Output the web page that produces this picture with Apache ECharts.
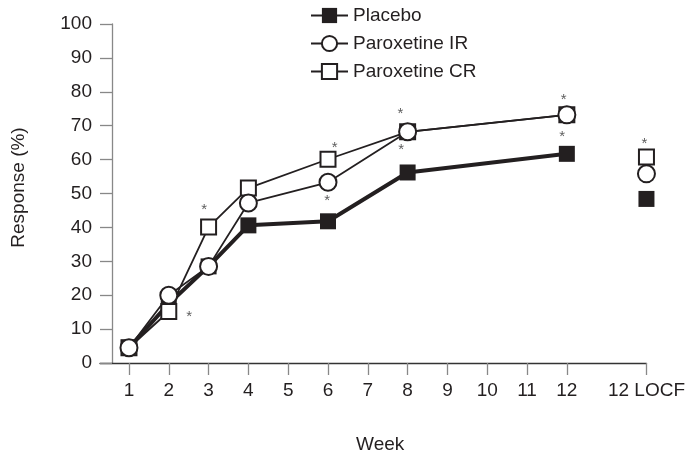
<!DOCTYPE html>
<html><head><meta charset="utf-8">
<script src="https://cdn.jsdelivr.net/npm/echarts@6/dist/echarts.min.js"></script>
<style>html,body{margin:0;padding:0;background:#fff}#c{width:688px;height:459px}</style>
</head><body><div id="c"></div>
<script>
// ---- data ----
const weeks = [1, 2, 3, 4, 6, 8, 12];
const locfX = 14;
const xTickValues = [1, 2, 3, 4, 5, 6, 7, 8, 9, 10, 11, 12, 14];
const xTickLabels = ['1','2','3','4','5','6','7','8','9','10','11','12','12 LOCF'];
const yTicks = [0, 10, 20, 30, 40, 50, 60, 70, 80, 90, 100];

const placebo = [4.5, 17.5, 28.5, 40.6, 41.8, 56.2, 61.7];
const placeboLOCF = 48.4;
const paroxIR = [4.5, 20.0, 28.5, 47.2, 53.3, 68.2, 73.2];
const paroxIRLOCF = 55.8;
const paroxCR = [4.5, 15.2, 40.1, 51.6, 60.1, 68.2, 73.2];
const paroxCRLOCF = 60.8;

// significance markers (*) positions in data units
const asterisks = [[2.89, 46.1], [2.51, 14.5], [6.17, 64.4], [5.98, 48.7],
  [7.82, 74.6], [7.84, 63.8], [11.92, 78.6], [11.88, 67.8], [13.95, 65.5]];

// ---- build ----
const ink = '#231f20';
function build(vals, locf) {
  const d = weeks.map((w, i) => [w, vals[i]]);
  d.push([13, '-']);
  d.push([locfX, locf]);
  return d;
}
const font = 'Liberation Sans, Arial, Helvetica, sans-serif';
const chart = echarts.init(document.getElementById('c'), null, {renderer: 'canvas'});
chart.setOption({
  animation: false,
  backgroundColor: '#fff',
  textStyle: {fontFamily: font, color: ink},
  grid: {left: 100, right: 41, top: 24, bottom: 92},
  legend: {
    data: ['Placebo', 'Paroxetine IR', 'Paroxetine CR'],
    orient: 'vertical', left: 305, top: 1, padding: 5,
    itemWidth: 37, itemHeight: 19, itemGap: 9,
    textStyle: {fontSize: 19, color: ink, fontFamily: font}
  },
  xAxis: {
    type: 'value', min: 1 - 29 / 39.85, max: 14,
    name: 'Week', nameLocation: 'middle', nameGap: 72,
    nameTextStyle: {fontSize: 19, color: ink, padding: [0, 0, 0, 14]},
    axisLine: {show: true, onZero: false, lineStyle: {color: '#333', width: 1.3}},
    axisTick: {show: true, length: 12, customValues: xTickValues, lineStyle: {color: '#888', width: 1.3}},
    axisLabel: {fontSize: 19, color: ink, margin: 18, customValues: xTickValues,
      formatter: v => xTickLabels[xTickValues.indexOf(v)] ?? ''},
    splitLine: {show: false}
  },
  yAxis: {
    type: 'value', min: 0, max: 100, interval: 10, offset: -12,
    name: 'Response (%)', nameLocation: 'middle', nameGap: 84,
    nameTextStyle: {fontSize: 19, color: ink, padding: [0, 0, 0, 12]},
    axisLine: {show: true, lineStyle: {color: '#888', width: 1.3}},
    axisTick: {show: true, length: 12, lineStyle: {color: '#888', width: 1.3}},
    axisLabel: {fontSize: 19, color: ink, margin: 20},
    splitLine: {show: false}
  },
  series: [
    {name: 'Placebo', type: 'line', data: build(placebo, placeboLOCF),
      symbol: 'rect', symbolSize: 16, showAllSymbol: true, z: 2,
      itemStyle: {color: ink, borderColor: ink, borderWidth: 0},
      lineStyle: {color: ink, width: 4}},
    {name: 'Paroxetine CR', type: 'line', data: build(paroxCR, paroxCRLOCF),
      symbol: 'rect', symbolSize: 15, showAllSymbol: true, z: 3,
      itemStyle: {color: '#fff', borderColor: ink, borderWidth: 2},
      lineStyle: {color: ink, width: 1.8}},
    {name: 'Paroxetine IR', type: 'line', data: build(paroxIR, paroxIRLOCF),
      symbol: 'circle', symbolSize: 17, showAllSymbol: true, z: 4,
      itemStyle: {color: '#fff', borderColor: ink, borderWidth: 2},
      lineStyle: {color: ink, width: 1.8}},
    {name: 'sig', type: 'scatter', data: asterisks, symbol: 'circle', symbolSize: 2,
      itemStyle: {color: 'rgba(0,0,0,0)'}, silent: true, z: 5,
      label: {show: true, position: 'inside', formatter: '*', fontSize: 15,
        color: '#333', fontFamily: font, offset: [0, 3.3]},
      emphasis: {disabled: true}}
  ]
});
</script></body></html>
